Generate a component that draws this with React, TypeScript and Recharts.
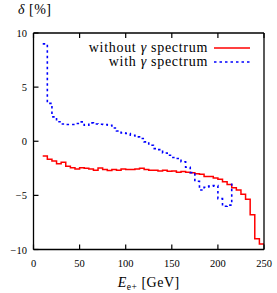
import React from 'react';
import { LineChart, Line, XAxis, YAxis, Legend, Label } from 'recharts';

// bin lower edges (GeV), 5 GeV wide
const redEdges = [10, 15, 20, 25, 30, 35, 40, 45, 50, 55, 60, 65, 70, 75, 80, 85, 90, 95, 100, 105, 110, 115, 120, 125,
  130, 135, 140, 145, 150, 155, 160, 165, 170, 175, 180, 185, 190, 195, 200, 205, 210, 215, 220, 225, 230, 235, 240, 245, 250];
const withoutGamma = [-1.36, -1.67, -1.82, -2.07, -1.95, -2.3, -2.44, -2.56, -2.44, -2.5, -2.56, -2.68, -2.47, -2.6, -2.7, -2.62,
  -2.68, -2.56, -2.6, -2.6, -2.56, -2.5, -2.62, -2.68, -2.68, -2.74, -2.68, -2.78, -2.74, -2.87, -2.8, -2.87, -2.9, -3.0,
  -3.05, -3.25, -3.25, -3.4, -3.5, -3.74, -4.0, -4.3, -4.5, -4.9, -5.35, -6.8, -9.0, -9.5, -9.5];
const withGamma = [9.0, 3.5, 2.25, 1.8, 1.6, 1.55, 1.55, 1.64, 1.79, 1.48, 1.7, 1.6, 1.57, 1.55, 1.48, 1.23, 0.95, 0.77,
  0.71, 0.56, 0.4, 0.25, -0.06, -0.37, -0.68, -0.77, -1.08, -1.3, -1.5, -1.6, -1.9, -2.4, -2.9, -3.7, -4.5, -4.25, -4.15,
  -4.1, -5.3, -6.0, -5.9, -3.9];

const xTicks = [0, 50, 100, 150, 200, 250];
const yTicks = [-10, -5, 0, 5, 10];

const series = [
  { key: 'without', label: 'without', color: '#ff0000', dash: undefined },
  { key: 'with', label: 'with', color: '#0000ff', dash: '2.5 3' },
];

const data = redEdges.map((x, i) => ({
  x,
  without: withoutGamma[i],
  with: i < withGamma.length ? withGamma[i] : undefined,
}));

const serif = '"Liberation Serif", serif';
const fmt = (v: number) => (v < 0 ? '\u2212' + Math.abs(v) : String(v));

const BottomTick = (props: any) => {
  const { x, y, payload } = props;
  return (
    <g>
      <line x1={x} y1={y} x2={x} y2={y - 5} stroke="#000" strokeWidth={1.2} />
      <text x={x} y={y + 17} textAnchor="middle" style={{ fontFamily: serif }} fontSize={10.5} fill="#000">
        {fmt(payload.value)}
      </text>
    </g>
  );
};

const TopTick = (props: any) => {
  const { x, y } = props;
  return <line x1={x} y1={y} x2={x} y2={y + 5} stroke="#000" strokeWidth={1.2} />;
};

const LeftTick = (props: any) => {
  const { x, y, payload } = props;
  return (
    <g>
      <line x1={x} y1={y} x2={x + 5} y2={y} stroke="#000" strokeWidth={1.2} />
      <text x={x - 6.5} y={y + 4} textAnchor="end" style={{ fontFamily: serif }} fontSize={10.5} fill="#000">
        {fmt(payload.value)}
      </text>
    </g>
  );
};

const RightTick = (props: any) => {
  const { x, y } = props;
  return <line x1={x} y1={y} x2={x - 5} y2={y} stroke="#000" strokeWidth={1.2} />;
};

const LegendBox = () => (
  <div style={{ fontFamily: serif, fontSize: 14, letterSpacing: 0.7, color: '#000' }}>
    {series.map(s => (
      <div key={s.key} style={{ display: 'flex', alignItems: 'center', justifyContent: 'flex-end', height: 14, lineHeight: '14px' }}>
        <span style={{ whiteSpace: 'nowrap' }}>
          {s.label} <i>γ</i> spectrum
        </span>
        <svg width={36} height={6} style={{ marginLeft: 6 }}>
          <line x1={0} y1={3} x2={36} y2={3} stroke={s.color} strokeWidth={1.6} strokeDasharray={s.dash} />
        </svg>
      </div>
    ))}
  </div>
);

const axisLine = { stroke: '#000', strokeWidth: 1.3 };

const App: React.FC = () => {
  return (
    <div style={{ position: 'absolute', left: 0, top: 0, width: 277, height: 293, fontFamily: serif }}>
      <LineChart width={277} height={293} data={data} margin={{ top: 23, right: 0, bottom: 0, left: 0 }}
        style={{ fontFamily: serif }}>
        <XAxis dataKey="x" type="number" domain={[0, 250]} ticks={xTicks} height={43.5}
          tickSize={0} tickMargin={0} tickLine={false} axisLine={axisLine} tick={<BottomTick />} interval={0}>
          <Label content={({ viewBox }: any) => (
            <text x={viewBox.x + viewBox.width / 2} y={viewBox.y + 37} textAnchor="middle" style={{ fontFamily: serif }}
              fontSize={14} fill="#000" letterSpacing={0.5}>
              <tspan fontStyle="italic">E</tspan>
              <tspan fontSize={9.5} dy={3}>e+</tspan>
              <tspan dy={-3}> [GeV]</tspan>
            </text>
          )} />
        </XAxis>
        <XAxis xAxisId="top" orientation="top" dataKey="x" type="number" domain={[0, 250]} ticks={xTicks} height={10}
          tickSize={0} tickMargin={0} tickLine={false} axisLine={axisLine} tick={<TopTick />} interval={0} />
        <YAxis type="number" domain={[-10, 10]} ticks={yTicks} width={33.5}
          tickSize={0} tickMargin={0} tickLine={false} axisLine={axisLine} tick={<LeftTick />} interval={0} />
        <YAxis yAxisId="right" orientation="right" type="number" domain={[-10, 10]} ticks={yTicks} width={13}
          tickSize={0} tickMargin={0} tickLine={false} axisLine={axisLine} tick={<RightTick />} interval={0} />
        <Legend layout="horizontal" verticalAlign="middle" align="center" content={<LegendBox />}
          wrapperStyle={{ top: 41, right: 27, left: 'auto', width: 'auto' }} />
        <Line dataKey="without" type="stepAfter" stroke="#ff0000" strokeWidth={1.5} dot={false}
          isAnimationActive={false} legendType="none" />
        <Line dataKey="with" type="stepAfter" stroke="#0000ff" strokeWidth={1.6} strokeDasharray="2.5 3" dot={false}
          isAnimationActive={false} legendType="none" />
      </LineChart>
      {/* y-axis title sits above the frame, left-aligned with the tick labels */}
      <div style={{ position: 'absolute', left: 18, top: 2.5, fontSize: 14, lineHeight: '14px', letterSpacing: 0.5,
        color: '#000', whiteSpace: 'nowrap' }}>
        <i>δ</i> [%]
      </div>
    </div>
  );
};

export default App;
